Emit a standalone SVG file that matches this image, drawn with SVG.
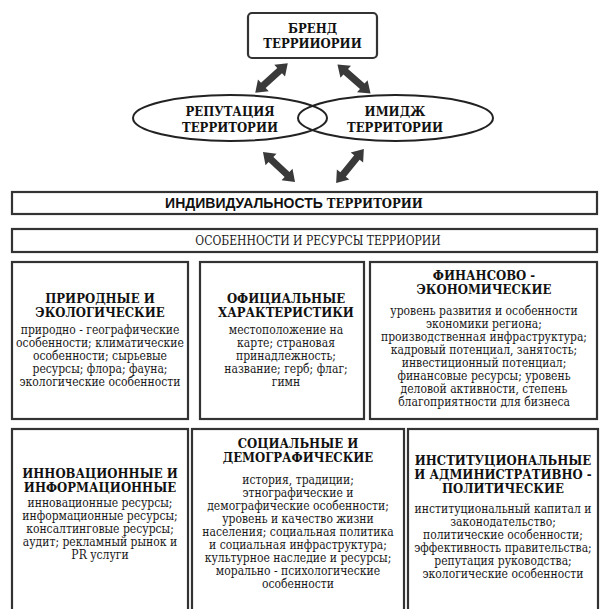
<svg xmlns="http://www.w3.org/2000/svg" xmlns:xlink="http://www.w3.org/1999/xlink" width="600" height="609" viewBox="0 0 600 609">
<style>
.box{fill:#fff;stroke:#333;stroke-width:2.2}
.ell{fill:none;stroke:#222;stroke-width:2}
.t{font-family:"DejaVu Serif Condensed","DejaVu Serif","Liberation Serif",serif;font-stretch:condensed;font-weight:bold;font-size:13px;fill:#111;text-anchor:middle}
.b{font-family:"DejaVu Serif Condensed","DejaVu Serif","Liberation Serif",serif;font-stretch:condensed;font-size:12px;fill:#1a1a1a;text-anchor:middle}
.arr{fill:#3a3a3a}
</style>
<defs>
<polygon id="dbl" points="-22,0 -11,-8 -11,-3.5 11,-3.5 11,-8 22,0 11,8 11,3.5 -11,3.5 -11,8"/>
</defs>
<rect width="600" height="609" fill="#fff"/>

<g id="brand">
<rect class="box" x="248" y="13" width="129" height="45" rx="4"/>
<text class="t" x="312.5" y="33"><tspan x="312.5">БРЕНД</tspan><tspan x="312.5" dy="15">ТЕРРИИОРИИ</tspan></text>
</g>

<g id="reputation">
<ellipse class="ell" cx="230" cy="118" rx="97" ry="23"/>
<text class="t" x="230" y="116"><tspan x="230">РЕПУТАЦИЯ</tspan><tspan x="230" dy="16">ТЕРРИТОРИИ</tspan></text>
</g>

<g id="image">
<ellipse class="ell" cx="395.5" cy="118" rx="97.5" ry="23"/>
<text class="t" x="395" y="116"><tspan x="395">ИМИДЖ</tspan><tspan x="395" dy="16">ТЕРРИТОРИИ</tspan></text>
</g>

<g id="connectors" class="arr">
<use xlink:href="#dbl" transform="translate(271.5,78) rotate(137.7)"/>
<use xlink:href="#dbl" transform="translate(354,79) rotate(41.2)"/>
<use xlink:href="#dbl" transform="translate(279,167) rotate(43.2)"/>
<use xlink:href="#dbl" transform="translate(350,166) rotate(129)"/>
</g>

<g id="individuality">
<rect class="box" x="12" y="192" width="585" height="22"/>
<text x="294" y="208" style="font-weight:bold;font-size:14px;fill:#111;text-anchor:middle"><tspan style="font-family:'Liberation Sans',Arial,sans-serif">ИНДИВИДУАЛЬНОСТЬ</tspan><tspan style="font-family:'DejaVu Serif Condensed','DejaVu Serif',serif;font-stretch:condensed;font-size:13px"> ТЕРРИТОРИИ</tspan></text>
</g>

<g id="features">
<rect class="box" x="12" y="229" width="585" height="23"/>
<text class="b" x="318" y="245">ОСОБЕННОСТИ И РЕСУРСЫ ТЕРРИОРИИ</text>
</g>

<g id="natural">
<rect class="box" x="12" y="262" width="176" height="157"/>
<text class="t" y="303"><tspan x="100">ПРИРОДНЫЕ И</tspan><tspan x="100" dy="14">ЭКОЛОГИЧЕСКИЕ</tspan></text>
<text class="b" y="334"><tspan x="100">природно - географические</tspan><tspan x="100" dy="13">особенности; климатические</tspan><tspan x="100" dy="13">особенности; сырьевые</tspan><tspan x="100" dy="13">ресурсы; флора; фауна;</tspan><tspan x="100" dy="13">экологические особенности</tspan></text>
</g>

<g id="official">
<rect class="box" x="200" y="262" width="164" height="157"/>
<text class="t" y="303"><tspan x="286">ОФИЦИАЛЬНЫЕ</tspan><tspan x="286" dy="14">ХАРАКТЕРИСТИКИ</tspan></text>
<text class="b" y="334"><tspan x="286">местоположение на</tspan><tspan x="286" dy="13">карте; страновая</tspan><tspan x="286" dy="13">принадлежность;</tspan><tspan x="286" dy="13">название; герб; флаг;</tspan><tspan x="286" dy="13">гимн</tspan></text>
</g>

<g id="financial">
<rect class="box" x="370" y="262" width="227" height="157"/>
<text class="t" y="280"><tspan x="484">ФИНАНСОВО -</tspan><tspan x="484" dy="14">ЭКОНОМИЧЕСКИЕ</tspan></text>
<text class="b" y="315"><tspan x="484">уровень развития и особенности</tspan><tspan x="484" dy="13">экономики региона;</tspan><tspan x="484" dy="13">производственная инфраструктура;</tspan><tspan x="484" dy="13">кадровый потенциал, занятость;</tspan><tspan x="484" dy="13">инвестиционный потенциал;</tspan><tspan x="484" dy="13">финансовые ресурсы; уровень</tspan><tspan x="484" dy="13">деловой активности, степень</tspan><tspan x="484" dy="13">благоприятности для бизнеса</tspan></text>
</g>

<g id="innovation">
<rect class="box" x="12" y="429" width="176" height="185"/>
<text class="t" y="478"><tspan x="100">ИННОВАЦИОННЫЕ И</tspan><tspan x="100" dy="14">ИНФОРМАЦИОННЫЕ</tspan></text>
<text class="b" y="507"><tspan x="100">инновационные ресурсы;</tspan><tspan x="100" dy="13">информационные ресурсы;</tspan><tspan x="100" dy="13">консалтинговые ресурсы;</tspan><tspan x="100" dy="13">аудит; рекламный рынок и</tspan><tspan x="100" dy="13">PR услуги</tspan></text>
</g>

<g id="social">
<rect class="box" x="192" y="429" width="212" height="185"/>
<text class="t" y="448"><tspan x="298">СОЦИАЛЬНЫЕ И</tspan><tspan x="298" dy="14">ДЕМОГРАФИЧЕСКИЕ</tspan></text>
<text class="b" y="484"><tspan x="298">история, традиции;</tspan><tspan x="298" dy="13">этнографические и</tspan><tspan x="298" dy="13">демографические особенности;</tspan><tspan x="298" dy="13">уровень и качество жизни</tspan><tspan x="298" dy="13">населения; социальная политика</tspan><tspan x="298" dy="13">и социальная инфраструктура;</tspan><tspan x="298" dy="13">культурное наследие и ресурсы;</tspan><tspan x="298" dy="13">морально - психологические</tspan><tspan x="298" dy="13">особенности</tspan></text>
</g>

<g id="institutional">
<rect class="box" x="408" y="429" width="190" height="185"/>
<text class="t" y="465"><tspan x="503">ИНСТИТУЦИОНАЛЬНЫЕ</tspan><tspan x="503" dy="14">И АДМИНИСТРАТИВНО -</tspan><tspan x="503" dy="14">ПОЛИТИЧЕСКИЕ</tspan></text>
<text class="b" y="513"><tspan x="503">институциональный капитал и</tspan><tspan x="503" dy="13">законодательство;</tspan><tspan x="503" dy="13">политические особенности;</tspan><tspan x="503" dy="13">эффективность правительства;</tspan><tspan x="503" dy="13">репутация руководства;</tspan><tspan x="503" dy="13">экологические особенности</tspan></text>
</g>
</svg>
